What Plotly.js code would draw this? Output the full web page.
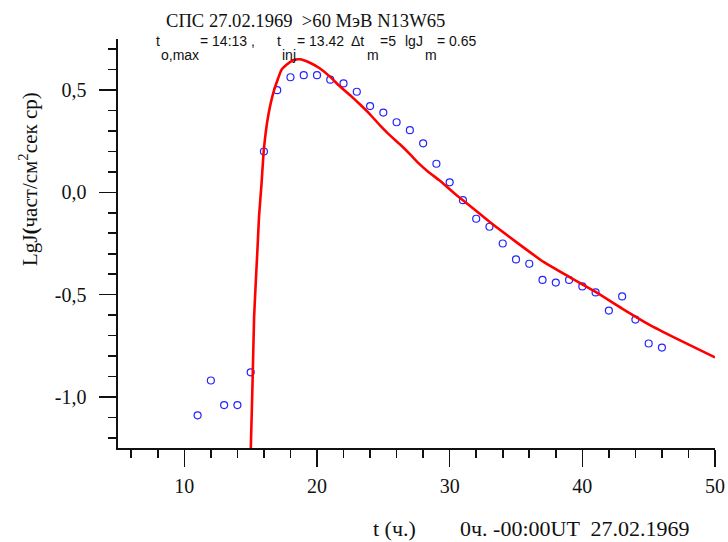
<!DOCTYPE html>
<html>
<head>
<meta charset="utf-8">
<script src="https://cdn.plot.ly/plotly-3.0.1.min.js"></script>
<style>html,body{margin:0;padding:0;background:#fff;}#chart{width:728px;height:542px;}</style>
</head>
<body>
<div id="chart"></div>
<script>
// Observed data (hours from 0h UT 27.02.1969, lg J)
const obsHours = [11,12,13,14,15,16,17,18,19,20,21,22,23,24,25,26,27,28,29,30,31,32,33,34,35,36,37,38,39,40,41,42,43,44,45,46];
const obsLgJ = [-1.09,-0.92,-1.04,-1.04,-0.88,0.20,0.50,0.563,0.573,0.573,0.551,0.533,0.492,0.422,0.39,0.343,0.304,0.24,0.14,0.049,-0.038,-0.129,-0.168,-0.25,-0.328,-0.349,-0.428,-0.441,-0.428,-0.46,-0.489,-0.578,-0.509,-0.622,-0.739,-0.759];

// Model curve
const fitHours = [14.99,15.01,15.14,15.26,15.38,15.51,15.63,15.82,15.99,16.31,16.77,17.32,17.7,18.2,18.7,19.46,20.2,20.97,21.7,22.48,23.23,23.98,24.73,25.48,26.25,27.0,27.67,28.4,29.2,30.5,31,33,35,37.07,39,41,43,45,47.1,50];
const fitLgJ = [-1.30,-1.251,-0.935,-0.609,-0.445,-0.282,-0.119,0.044,0.207,0.370,0.501,0.599,0.624,0.646,0.651,0.634,0.607,0.566,0.52,0.476,0.431,0.383,0.329,0.28,0.235,0.187,0.142,0.10,0.06,-0.013,-0.038,-0.144,-0.242,-0.34,-0.413,-0.487,-0.568,-0.645,-0.715,-0.807];

const xTickVals = [10,20,30,40,50];
const xTickText = ['10','20','30','40','50'];
const yTickVals = [-1.0,-0.5,0.0,0.5];
const yTickText = ['-1,0','-0,5','0,0','0,5'];

const titleText = 'СПС 27.02.1969  >60 МэВ N13W65';
const yTitleText = 'LgJ<b>(</b>част/см<sup>2</sup>сек ср)';
const xTitleLeft = 't (ч.)';
const xTitleRight = '0ч. -00:00UT  27.02.1969';
const paramMain = ['t','= 14:13 ,','t','= 13.42','Δt','=5','lgJ','= 0.65'];
const paramSubs = ['o,max','inj','m','m'];

const W = 728, H = 542, ML = 118, MR = 13, MT = 39, MB = 94;
const PW = W - ML - MR, PH = H - MT - MB;
const px = x => (x - ML) / PW;
const py = y => (H - MB - y) / PH;

const serif = 'Liberation Serif, Times New Roman, serif';
const sans = 'Liberation Sans, Arial, sans-serif';

const mainX = [154, 198, 275, 295, 349, 378, 403, 435];
const subX = [159, 280, 365, 423];

const annotations = [];
annotations.push({text: titleText, xref:'paper', yref:'paper', x: px(305), y: py(20), xanchor:'center', yanchor:'middle', showarrow:false, font:{family: serif, size:18.6, color:'#111'}});
paramMain.forEach((t,i) => annotations.push({text: t, xref:'paper', yref:'paper', x: px(mainX[i]), y: py(41), xanchor:'left', yanchor:'middle', showarrow:false, font:{family: sans, size:14, color:'#111'}}));
paramSubs.forEach((t,i) => annotations.push({text: t, xref:'paper', yref:'paper', x: px(subX[i]), y: py(55), xanchor:'left', yanchor:'middle', showarrow:false, font:{family: sans, size:14, color:'#111'}}));
annotations.push({text: yTitleText, xref:'paper', yref:'paper', x: px(28), y: py(179), xanchor:'center', yanchor:'middle', textangle:-90, showarrow:false, font:{family: serif, size:21, color:'#111'}});
annotations.push({text: xTitleLeft, xref:'paper', yref:'paper', x: px(371), y: py(528), xanchor:'left', yanchor:'middle', showarrow:false, font:{family: serif, size:22, color:'#111'}});
annotations.push({text: xTitleRight, xref:'paper', yref:'paper', x: px(458), y: py(528), xanchor:'left', yanchor:'middle', showarrow:false, font:{family: serif, size:22, color:'#111'}});

const traces = [
  {x: obsHours, y: obsLgJ, type:'scatter', mode:'markers', marker:{symbol:'circle-open', size:7, color:'#2424ff', line:{width:1.2, color:'#2424ff'}}, cliponaxis:true, hoverinfo:'skip'},
  {x: fitHours, y: fitLgJ, type:'scatter', mode:'lines', line:{color:'#ff0000', width:2.6, shape:'spline', smoothing:0.4}, hoverinfo:'skip'}
];

const layout = {
  width: W, height: H,
  margin: {l: ML, r: MR, t: MT, b: MB, pad: 0},
  paper_bgcolor: '#fff', plot_bgcolor: '#fff',
  showlegend: false,
  xaxis: {
    range: [5, 50], showgrid:false, zeroline:false, showline:true, linecolor:'#111', linewidth:1.6,
    ticks:'outside', ticklen:17, tickwidth:1.6, tickcolor:'#111',
    tickmode:'array', tickvals: xTickVals, ticktext: xTickText,
    tickfont:{family: serif, size:20, color:'#111'}, ticklabelstandoff: 2,
    minor:{ticks:'outside', ticklen:8, tickwidth:1.6, tickcolor:'#111', dtick:2, tick0:0, showgrid:false}
  },
  yaxis: {
    range: [-1.25, 0.75], showgrid:false, zeroline:false, showline:true, linecolor:'#111', linewidth:1.6,
    ticks:'outside', ticklen:17, tickwidth:1.6, tickcolor:'#111',
    tickmode:'array', tickvals: yTickVals, ticktext: yTickText,
    tickfont:{family: serif, size:20, color:'#111'}, ticklabelstandoff: 9,
    minor:{ticks:'outside', ticklen:8, tickwidth:1.6, tickcolor:'#111', dtick:0.1, tick0:0, showgrid:false}
  },
  annotations: annotations
};

Plotly.newPlot('chart', traces, layout, {staticPlot:true, displayModeBar:false});
</script>
</body>
</html>
